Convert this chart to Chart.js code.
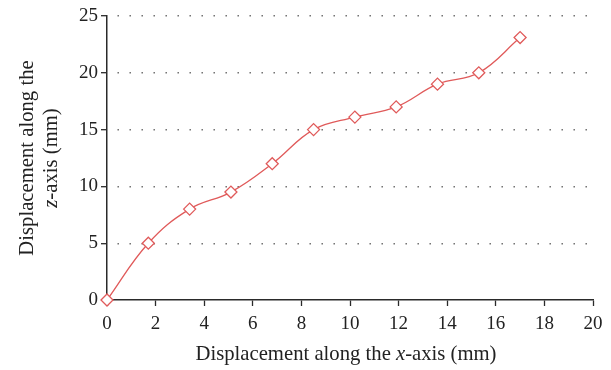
<!DOCTYPE html>
<html>
<head>
<meta charset="utf-8">
<script src="https://cdn.jsdelivr.net/npm/chart.js@4/dist/chart.umd.min.js"></script>
<style>
html,body{margin:0;padding:0;background:#fff;}
#wrap{width:611px;height:370px;position:relative;}
</style>
</head>
<body>
<div id="wrap"><canvas id="c" width="611" height="370"></canvas></div>
<script>
const xValues = [0, 1.7, 3.4, 5.1, 6.8, 8.5, 10.2, 11.9, 13.6, 15.3, 17.0];
const zValues = [0, 5, 8, 9.5, 12, 15, 16.1, 17, 19, 20, 23.1];
const xTitleParts = [["Displacement along the ", false], ["x", true], ["-axis (mm)", false]];
const yTitleLine1 = [["Displacement along the", false]];
const yTitleLine2 = [["z", true], ["-axis (mm)", false]];

const FONT = '"Liberation Serif", "DejaVu Serif", serif';
const RED = '#e05a5a';
const AXIS = '#2a2a2a';
const TITLE_SIZE = 20.7;

const points = xValues.map((x, i) => ({x: x, y: zValues[i]}));

function drawMixed(ctx, parts, cx, cy, size) {
  let total = 0;
  const widths = parts.map(p => {
    ctx.font = (p[1] ? 'italic ' : '') + size + 'px ' + FONT;
    const w = ctx.measureText(p[0]).width;
    total += w;
    return w;
  });
  let x = cx - total / 2;
  parts.forEach((p, i) => {
    ctx.font = (p[1] ? 'italic ' : '') + size + 'px ' + FONT;
    ctx.fillText(p[0], x, cy);
    x += widths[i];
  });
}

const titlePlugin = {
  id: 'titles',
  afterDraw(chart) {
    const ctx = chart.ctx;
    ctx.save();
    ctx.fillStyle = '#222';
    ctx.textBaseline = 'middle';
    ctx.textAlign = 'left';
    drawMixed(ctx, xTitleParts, 346, 355, TITLE_SIZE);
    ctx.translate(0, 158);
    ctx.rotate(-Math.PI / 2);
    drawMixed(ctx, yTitleLine1, 0, 28, TITLE_SIZE);
    drawMixed(ctx, yTitleLine2, 0, 52, TITLE_SIZE);
    ctx.restore();
  }
};

new Chart(document.getElementById('c'), {
  type: 'line',
  data: {
    datasets: [{
      data: points,
      borderColor: RED,
      borderWidth: 1.3,
      tension: 0.4,
      pointStyle: 'rectRot',
      pointRadius: 6,
      pointBackgroundColor: '#fff',
      pointBorderColor: RED,
      pointBorderWidth: 1.3,
      clip: false
    }]
  },
  options: {
    responsive: false,
    animation: false,
    devicePixelRatio: 1,
    layout: {padding: {left: 0, top: 16, right: 18, bottom: 0}},
    plugins: {legend: {display: false}, tooltip: {enabled: false}},
    scales: {
      x: {
        type: 'linear',
        min: 0, max: 20,
        afterFit(s) { s.height = 70; },
        ticks: {stepSize: 2, color: '#222', font: {family: FONT, size: 19}, padding: 7, maxRotation: 0},
        grid: {drawOnChartArea: false, drawTicks: true, tickLength: 6, tickColor: AXIS, tickWidth: 1.3},
        border: {display: true, color: AXIS, width: 1.5}
      },
      y: {
        type: 'linear',
        min: 0, max: 25,
        afterFit(s) { s.width = 107; },
        ticks: {stepSize: 5, color: '#222', font: {family: FONT, size: 19}, padding: 3},
        grid: {
          drawOnChartArea: true, drawTicks: true, tickLength: 6,
          color: ctx => (ctx.tick && ctx.tick.value === 0) ? 'rgba(0,0,0,0)' : '#666',
          lineWidth: 1.4,
          tickColor: AXIS, tickWidth: 1.3, tickBorderDash: []
        },
        border: {display: true, color: AXIS, width: 1.5, dash: [1.4, 10.6], dashOffset: -10}
      }
    }
  },
  plugins: [titlePlugin]
});
</script>
</body>
</html>
